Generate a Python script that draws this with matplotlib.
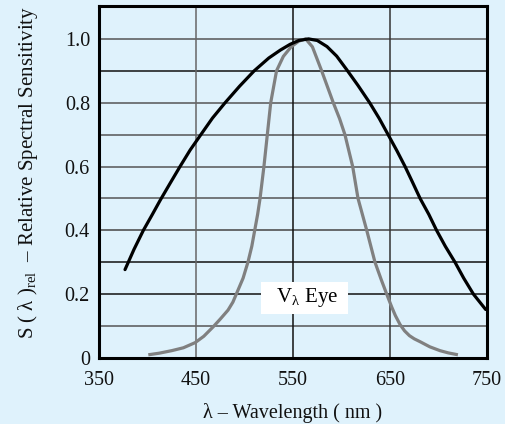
import matplotlib
matplotlib.use("Agg")
import matplotlib.pyplot as plt

# --- data ---
detector_wl = [376.8, 386, 395.7, 405, 413, 423, 433.5, 444, 455, 467, 480, 495, 510, 525, 537, 547, 556, 566,
               575, 585, 595, 605, 617, 629, 639, 648, 657, 665.5, 673, 681, 690, 698, 707, 717, 726, 736, 748.6]
detector_s = [0.277, 0.34, 0.40, 0.45, 0.494, 0.546, 0.60, 0.652, 0.70, 0.752, 0.80, 0.852, 0.90, 0.94, 0.965, 0.983, 0.995, 1.0,
              0.995, 0.976, 0.946, 0.905, 0.854, 0.80, 0.75, 0.70, 0.65, 0.60, 0.552, 0.50, 0.45, 0.40, 0.35, 0.30, 0.25, 0.20, 0.152]

eye_wl = [400.8, 412, 425, 437, 449, 458, 467.8, 475, 483, 488, 491.5, 498.5, 503.5, 507.5, 510.5, 513.5, 516, 520,
          523.5, 527, 533, 540, 548, 556, 563,
          570, 579.5, 591.5, 598, 603.5, 607.5, 611.5, 617, 626, 634.5, 641, 646.6, 651.7, 655.5, 660.3, 665, 670, 675, 681,
          691, 701.5, 710, 720]
eye_s = [0.01, 0.015, 0.023, 0.032, 0.048, 0.068, 0.098, 0.122, 0.15, 0.175, 0.20, 0.25, 0.30, 0.35, 0.40, 0.45, 0.50, 0.60,
         0.70, 0.80, 0.90, 0.945, 0.975, 0.993, 1.0,
         0.975, 0.90, 0.80, 0.75, 0.70, 0.65, 0.60, 0.50, 0.40, 0.30, 0.245, 0.20, 0.16, 0.133, 0.105, 0.085, 0.07, 0.06, 0.051,
         0.035, 0.023, 0.016, 0.01]

x_ticks = [350, 450, 550, 650, 750]
y_ticks = [0, 0.2, 0.4, 0.6, 0.8, 1.0]
y_tick_labels = ["0", "0.2", "0.4", "0.6", "0.8", "1.0"]
h_grid = [0.1, 0.2, 0.3, 0.4, 0.5, 0.6, 0.7, 0.8, 0.9, 1.0]
h_grid_colors = ["#555555", "#111111", "#111111", "#444444", "#555555", "#555555", "#555555", "#555555", "#111111", "#555555"]
v_grid = [450, 550, 650]
v_grid_colors = ["#666666", "#111111", "#333333"]

BG = "#dff2fc"
plt.rcParams["font.family"] = ["Liberation Serif", "DejaVu Serif"]
plt.rcParams["mathtext.fontset"] = "custom"
plt.rcParams["mathtext.rm"] = "Liberation Serif"
plt.rcParams["mathtext.it"] = "Liberation Serif:italic"

fig = plt.figure(figsize=(5.06, 4.24), dpi=100, facecolor=BG)
ax = fig.add_axes([0.1957, 0.1557, 0.9625 - 0.1957, 0.9858 - 0.1557])
ax.set_facecolor(BG)

for y, c in zip(h_grid, h_grid_colors):
    ax.axhline(y, color=c, lw=1.1, zorder=1)
for x, c in zip(v_grid, v_grid_colors):
    ax.axvline(x, color=c, lw=1.1, zorder=1)

ax.plot(eye_wl, eye_s, color="#808080", lw=2.3, solid_capstyle="butt", solid_joinstyle="round", zorder=3)
ax.plot(detector_wl, detector_s, color="black", lw=2.3, solid_capstyle="round", solid_joinstyle="round", zorder=4)

ax.text(562, 0.188, "  V$_{\\mathrm{λ}}$ Eye  ", fontsize=15, ha="center", va="center", zorder=5,
        bbox=dict(boxstyle="square,pad=0.2", facecolor="white", edgecolor="none"))

ax.set_xlim(350, 750)
ax.set_ylim(0, 1.103)
ax.set_xticks(x_ticks)
ax.set_xticklabels([str(v) for v in x_ticks])
ax.set_yticks(y_ticks)
ax.set_yticklabels(y_tick_labels)
ax.tick_params(length=0, labelsize=14.5, colors="#111111")
ax.tick_params(axis="x", pad=9.5)
ax.tick_params(axis="y", pad=6.5)
for s in ax.spines.values():
    s.set_linewidth(2.2)
    s.set_color("black")
    s.set_zorder(6)

ax.set_xlabel("λ – Wavelength ( nm )", fontsize=14.5, color="#111111", va="center")
ax.xaxis.set_label_coords(0.5, -0.157)
ax.set_ylabel(r"S ( λ )$_{\rm rel}$  – Relative Spectral Sensitivity", fontsize=15, color="#111111", va="center")
ax.yaxis.set_label_coords(-0.184, 0.526)

fig.savefig("out.png", dpi=100, facecolor=BG)
